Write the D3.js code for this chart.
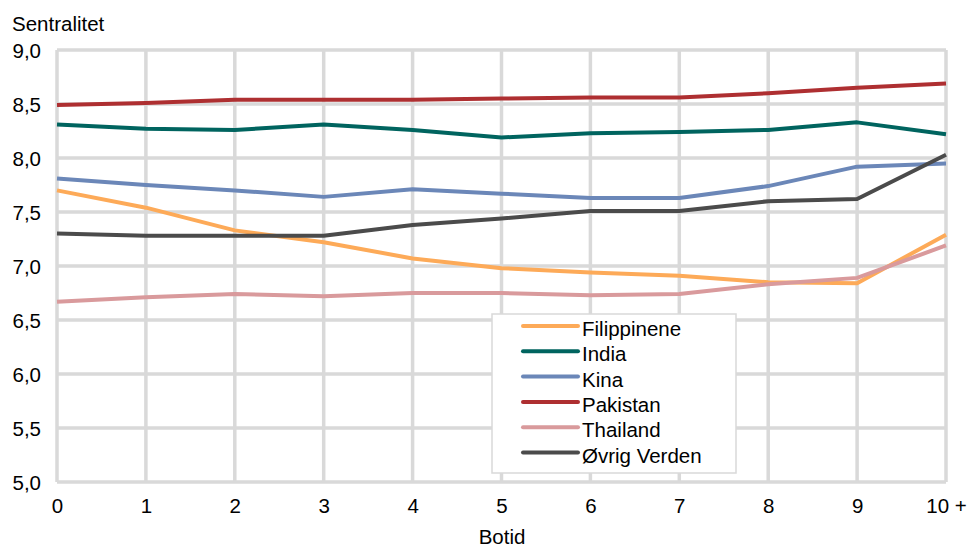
<!DOCTYPE html>
<html><head><meta charset="utf-8">
<script src="https://cdn.jsdelivr.net/npm/d3@7"></script>
<style>body{margin:0;background:#fff}svg{display:block}text{font-family:"Liberation Sans",Arial,sans-serif}</style>
</head><body><svg id="c" width="968" height="550"></svg>
<script>
const categories = ["0","1","2","3","4","5","6","7","8","9","10 +"];
const seriesNames = ["Filippinene","India","Kina","Pakistan","Thailand","Øvrig Verden"];
const filippinene = [7.70,7.54,7.33,7.22,7.07,6.98,6.94,6.91,6.85,6.84,7.29];
const india       = [8.31,8.27,8.26,8.31,8.26,8.19,8.23,8.24,8.26,8.33,8.22];
const kina        = [7.81,7.75,7.70,7.64,7.71,7.67,7.63,7.63,7.74,7.92,7.95];
const pakistan    = [8.49,8.51,8.54,8.54,8.54,8.55,8.56,8.56,8.60,8.65,8.69];
const thailand    = [6.67,6.71,6.74,6.72,6.75,6.75,6.73,6.74,6.83,6.89,7.19];
const ovrig       = [7.30,7.28,7.28,7.28,7.38,7.44,7.51,7.51,7.60,7.62,8.03];
const yTicks = [5.0,5.5,6.0,6.5,7.0,7.5,8.0,8.5,9.0];
const colors = ["#fdaa58","#00645f","#6b87b8","#ae2f31","#d99a9c","#4b4b4b"];
const seriesValues = [filippinene,india,kina,pakistan,thailand,ovrig];

const svg = d3.select("#c");
const x = d3.scalePoint().domain(categories).range([57,946]);
const y = d3.scaleLinear().domain([5,9]).range([482,50]);
const fmt = d => d.toFixed(1).replace(".",",");
const FS = 20.5;

// grid
svg.append("g").selectAll("line").data(yTicks).join("line")
  .attr("x1",57).attr("x2",946).attr("y1",d=>y(d)).attr("y2",d=>y(d))
  .attr("stroke","#d9d9d9").attr("stroke-width",3.5);
svg.append("g").selectAll("line").data(categories).join("line")
  .attr("x1",d=>x(d)).attr("x2",d=>x(d)).attr("y1",y(9)).attr("y2",y(5))
  .attr("stroke","#d9d9d9").attr("stroke-width",3.5);

// axes
const yAxis = svg.append("g").attr("transform","translate(41,0)")
  .call(d3.axisLeft(y).tickValues(yTicks).tickFormat(fmt).tickSize(0));
yAxis.select(".domain").remove();
yAxis.selectAll("text").attr("font-size",FS).attr("fill","#000").attr("x",0).attr("dy","0.35em");
const xAxis = svg.append("g").attr("transform","translate(0,513)")
  .call(d3.axisBottom(x).tickSize(0));
xAxis.select(".domain").remove();
xAxis.selectAll("text").attr("font-size",FS).attr("fill","#000").attr("dy",0).attr("y",0);

svg.append("text").attr("x",12).attr("y",31).attr("font-size",FS).text("Sentralitet");
svg.append("text").attr("x",502).attr("y",544).attr("font-size",FS).attr("text-anchor","middle").text("Botid");

// lines
const line = d3.line().x((d,i)=>x(categories[i])).y(d=>y(d));
svg.append("g").selectAll("path").data(seriesValues).join("path")
  .attr("d",line).attr("fill","none").attr("stroke",(d,i)=>colors[i])
  .attr("stroke-width",4).attr("stroke-linejoin","round");

// legend
const lg = svg.append("g");
lg.append("rect").attr("x",492).attr("y",314).attr("width",244).attr("height",159)
  .attr("fill","#fff").attr("stroke","#d9d9d9").attr("stroke-width",1.5);
const items = lg.selectAll("g.it").data(seriesNames).join("g").attr("class","it")
  .attr("transform",(d,i)=>`translate(0,${326+i*25.3})`);
items.append("line").attr("x1",523).attr("x2",578).attr("y1",0).attr("y2",0)
  .attr("stroke",(d,i)=>colors[i]).attr("stroke-width",4).attr("stroke-linecap","round");
items.append("text").attr("x",582).attr("y",10).attr("font-size",FS).text(d=>d);
</script></body></html>
